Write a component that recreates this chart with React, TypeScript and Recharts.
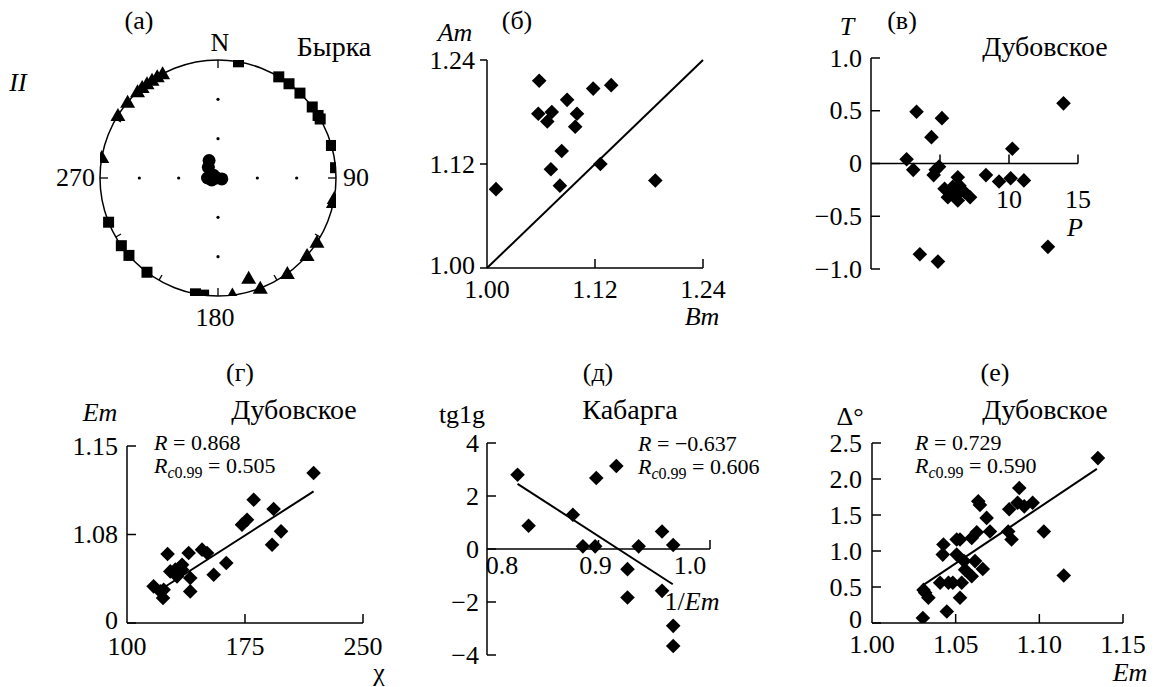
import { ScatterChart, Scatter, XAxis, YAxis, ReferenceLine, ReferenceDot } from 'recharts';

const FONT = "'Liberation Serif', Tinos, 'Times New Roman', serif";
const INK = '#000';
const PAD = 60;
const FS = 26;
const PLACE_FS = 28;

// ---- (а) Бырка: stereonet poles, [azimuth, dip] ----
const squarePoles = [[10, 0], [31, 0], [37, 0], [44, 0], [53, 0], [58, 0], [60, 0], [74, 0], [85, 0], [187, 0], [191, 0], [217, 0], [229, 0], [235, 0], [248, 0]];
const trianglePoles = [[280, 0], [302, 0], [310, 0], [317, 0], [320, 0], [323, 0], [326, 0], [329, 0], [332, 0], [100, 0], [102, 0], [123, 0], [131, 0], [144, 0], [159, 0], [173, 0], [163, 10]];
const circlePoles = [[333, 75], [318, 79], [270, 82], [252, 85], [270, 89], [104, 87], [301, 86]];
const netGridDips = [30, 60];
const netGridAzimuths = [0, 90, 180, 270];
const netTickAzimuths = [0, 30, 60, 90, 120, 150, 180, 210, 240, 270, 300, 330];

// ---- (б) Am vs Bm ----
const bmValues = [1.010, 1.058, 1.057, 1.072, 1.067, 1.089, 1.100, 1.098, 1.118, 1.138, 1.083, 1.071, 1.081, 1.126, 1.187];
const amValues = [1.091, 1.216, 1.178, 1.180, 1.169, 1.194, 1.178, 1.163, 1.207, 1.211, 1.135, 1.114, 1.095, 1.120, 1.101];
const equalityLine = [1.0, 1.24];

// ---- (в) T vs P, Дубовское ----
const pValues = [3.30, 5.14, 4.38, 2.58, 3.06, 4.54, 4.93, 4.69, 5.33, 5.57, 5.93, 6.29, 6.41, 6.29, 6.77, 7.18, 5.89, 8.33, 9.28, 10.12, 11.08, 10.24, 13.95, 12.82, 3.54, 4.85, 6.17, 6.53];
const tValues = [0.49, 0.43, 0.25, 0.04, -0.06, -0.11, -0.03, -0.06, -0.24, -0.32, -0.22, -0.13, -0.21, -0.35, -0.27, -0.32, -0.28, -0.11, -0.17, -0.14, -0.16, 0.14, 0.57, -0.79, -0.86, -0.93, -0.30, -0.25];

// ---- (г) Em vs χ, Дубовское ----
const chiValues = [218.6, 180.5, 193.2, 176.3, 173.1, 197.9, 192.2, 147.7, 150.9, 139.2, 125.8, 163.1, 155.1, 135.0, 130.7, 131.8, 140.2, 116.9, 123.3, 122.9, 140.2, 127.5, 121.2, 135.0];
const emValuesG = [1.1287, 1.1075, 1.1002, 1.0917, 1.0878, 1.0825, 1.0719, 1.068, 1.0654, 1.0654, 1.0646, 1.0575, 1.0482, 1.0561, 1.0522, 1.0469, 1.0456, 1.039, 1.0363, 1.0298, 1.035, 1.0508, 1.035, 1.0522];
const fitLineG = [[121.2, 1.0363], [218.6, 1.1141]];

// ---- (д) tg1g vs 1/Em, Кабарга ----
const invEmValues = [0.8274, 0.8373, 0.877, 0.886, 0.897, 0.898, 0.916, 0.936, 0.926, 0.926, 0.957, 0.967, 0.957, 0.967, 0.967];
const tglgValues = [2.80, 0.88, 1.29, 0.10, 0.10, 2.68, 3.13, 0.10, -0.76, -1.83, 0.66, 0.15, -1.58, -2.90, -3.66];
const fitLineD = [[0.8274, 2.46], [0.9666, -1.33]];

// ---- (е) Δ° vs Em, Дубовское ----
const emValuesE = [1.135, 1.088, 1.087, 1.091, 1.096, 1.082, 1.0635, 1.0645, 1.0685, 1.0705, 1.0814, 1.0834, 1.1027, 1.1146, 1.0626, 1.0596, 1.0506, 1.0526, 1.0427, 1.0423, 1.0506, 1.055, 1.0616, 1.0556, 1.0662, 1.0596, 1.0407, 1.0457, 1.0483, 1.0536, 1.0308, 1.0318, 1.0337, 1.0526, 1.0447, 1.0304];
const deltaValues = [2.29, 1.875, 1.67, 1.62, 1.67, 1.58, 1.69, 1.64, 1.46, 1.27, 1.27, 1.16, 1.27, 0.66, 1.26, 1.18, 1.16, 1.16, 1.09, 0.95, 0.95, 0.86, 0.86, 0.74, 0.75, 0.65, 0.56, 0.56, 0.56, 0.56, 0.46, 0.42, 0.35, 0.35, 0.16, 0.07];
const fitLineE = [[1.0308, 0.53], [1.1344, 2.14]];

const zip = (xs: number[], ys: number[]) => xs.map((x, i) => ({ x, y: ys[i] }));
const minus = (s: string) => s.replace('-', '\u2212');

// polar projection of a pole onto the net
const project = ([az, dip]: number[]) => {
  const r = (90 - dip) / 90;
  const a = (az * Math.PI) / 180;
  return { x: r * Math.sin(a), y: r * Math.cos(a), az };
};

const Diamond = (p: any) => {
  const { cx, cy } = p;
  const s = 7.3;
  return <polygon points={`${cx},${cy - s} ${cx + s},${cy} ${cx},${cy + s} ${cx - s},${cy}`} fill={INK} />;
};
const Square = (p: any) => <rect x={p.cx - 5.5} y={p.cy - 5.5} width={11} height={11} fill={INK} />;
const Triangle = (p: any) => {
  const { cx, cy } = p;
  return <polygon points={`${cx},${cy - 7.5} ${cx + 7.5},${cy + 5.5} ${cx - 7.5},${cy + 5.5}`} fill={INK} />;
};
const Ball = (p: any) => <circle cx={p.cx} cy={p.cy} r={6.5} fill={INK} />;
const GridDot = (p: any) => <circle cx={p.cx} cy={p.cy} r={1.6} fill={INK} />;
const NetTick = (p: any) => {
  const a = (p.payload.az * Math.PI) / 180;
  const len = p.payload.az % 90 === 0 ? 8 : 6;
  return <line x1={p.cx} y1={p.cy} x2={p.cx - len * Math.sin(a)} y2={p.cy + len * Math.cos(a)} stroke={INK} strokeWidth={1.3} />;
};

function Label({ x, y, anchor = 'middle', size = FS, italic = false, children }: any) {
  const tx = anchor === 'middle' ? '-50%' : anchor === 'end' ? '-100%' : '0';
  return (
    <div
      style={{
        position: 'absolute', left: x, top: y, transform: `translate(${tx}, -50%)`,
        fontSize: size, fontStyle: italic ? 'italic' : 'normal', lineHeight: 1,
        whiteSpace: 'nowrap', fontFamily: FONT, color: INK,
      }}
    >
      {children}
    </div>
  );
}

const RText = ({ r, rc }: { r: string; rc: string }) => (
  <>
    <div><i>R</i> = {r}</div>
    <div style={{ marginTop: 1 }}>
      <i>R</i><span style={{ fontSize: 16, position: 'relative', top: 5 }}><i>c</i>0.99</span> = {rc}
    </div>
  </>
);

function XTick(props: any) {
  const { x, y, payload, lift, fmt, labelDy, shift, skipMark } = props;
  const v = payload.value;
  const y0 = y - lift;
  return (
    <g>
      {v !== skipMark && <line x1={x} y1={y0} x2={x} y2={y0 - 9} stroke={INK} strokeWidth={1.5} />}
      <text x={x + (shift?.[String(v)] ?? 0)} y={y0 + labelDy} textAnchor="middle" dominantBaseline="central"
        style={{ fontFamily: FONT }} fontSize={FS} fill={INK}>{fmt(v)}</text>
    </g>
  );
}

function YTick(props: any) {
  const { x, y, payload, fmt, inside, gap, bottomValue, bottomDy } = props;
  const dy = payload.value === bottomValue ? bottomDy : 0;
  return (
    <g>
      <line x1={x} y1={y} x2={inside ? x + 9 : x - 7} y2={y} stroke={INK} strokeWidth={1.5} />
      <text x={x - gap} y={y + dy} textAnchor="end" dominantBaseline="central"
        style={{ fontFamily: FONT }} fontSize={FS} fill={INK}>{fmt(payload.value)}</text>
    </g>
  );
}

function Panel(props: any) {
  const { box, xDomain, yDomain, xTicks, yTicks, xFmt, yFmt, yInside, yGap, xZero, xLabelDy, xShift, bottomDy = 0, children } = props;
  const [l, t, r, b] = box;
  const w = r - l;
  const h = b - t;
  const lift = xZero ? (h * (0 - yDomain[0])) / (yDomain[1] - yDomain[0]) : 0;
  const axisStyle = { stroke: INK, strokeWidth: 1.5 };
  return (
    <div style={{ position: 'absolute', left: l - PAD, top: t - PAD }}>
      <ScatterChart width={w + 2 * PAD} height={h + 2 * PAD} margin={{ top: PAD, right: PAD, left: 0, bottom: 0 }}>
        <XAxis
          type="number" dataKey="x" domain={xDomain} ticks={xTicks} interval={0} allowDataOverflow
          height={PAD} axisLine={xZero ? false : axisStyle} tickLine={false} tickSize={0} tickMargin={0}
          tick={(p: any) => <XTick {...p} lift={lift} fmt={xFmt} labelDy={xLabelDy} shift={xShift} skipMark={xDomain[0]} />}
        />
        <YAxis
          type="number" dataKey="y" domain={yDomain} ticks={yTicks} interval={0} allowDataOverflow
          width={PAD} axisLine={axisStyle} tickLine={false} tickSize={0} tickMargin={0}
          tick={(p: any) => <YTick {...p} fmt={yFmt} inside={yInside} gap={yGap} bottomValue={yDomain[0]} bottomDy={bottomDy} />}
        />
        {xZero && <ReferenceLine y={0} stroke={INK} strokeWidth={1.5} />}
        {children}
      </ScatterChart>
    </div>
  );
}

function Stereonet() {
  const R = 118;
  const cx = 218;
  const cy = 178;
  const ticks = netTickAzimuths.map((az) => project([az, 0]));
  const grid = netGridDips.flatMap((d) => netGridAzimuths.map((az) => project([az, d])));
  return (
    <div style={{ position: 'absolute', left: cx - R - PAD, top: cy - R - PAD }}>
      <ScatterChart width={2 * R + 2 * PAD} height={2 * R + 2 * PAD} margin={{ top: PAD, right: PAD, bottom: PAD, left: PAD }}>
        <XAxis type="number" dataKey="x" domain={[-1, 1]} hide allowDataOverflow />
        <YAxis type="number" dataKey="y" domain={[-1, 1]} hide allowDataOverflow />
        <ReferenceDot x={0} y={0} r={R} fill="none" stroke={INK} strokeWidth={1.5} ifOverflow="visible" />
        <Scatter data={ticks} shape={NetTick} isAnimationActive={false} />
        <Scatter data={grid} shape={GridDot} isAnimationActive={false} />
        <Scatter data={squarePoles.map(project)} shape={Square} isAnimationActive={false} />
        <Scatter data={trianglePoles.map(project)} shape={Triangle} isAnimationActive={false} />
        <Scatter data={circlePoles.map(project)} shape={Ball} isAnimationActive={false} />
      </ScatterChart>
    </div>
  );
}

export default function App() {
  const line = { stroke: INK, strokeWidth: 2, ifOverflow: 'visible' as const };
  return (
    <div style={{ position: 'absolute', left: 0, top: 0, width: 1158, height: 687, background: '#fff', overflow: 'hidden', fontFamily: FONT }}>
      {/* (а) */}
      <Stereonet />
      <Label x={139} y={21}>(а)</Label>
      <Label x={220} y={43}>N</Label>
      <Label x={334} y={47} size={PLACE_FS}>Бырка</Label>
      <Label x={18} y={83} italic>II</Label>
      <Label x={95} y={178} anchor="end">270</Label>
      <Label x={343} y={178} anchor="start">90</Label>
      <Label x={215} y={318}>180</Label>

      {/* (б) */}
      <Panel
        box={[487, 60, 703, 268]} xDomain={[1, 1.24]} yDomain={[1, 1.24]}
        xTicks={[1, 1.12, 1.24]} yTicks={[1, 1.12, 1.24]}
        xFmt={(v: number) => v.toFixed(2)} yFmt={(v: number) => v.toFixed(2)}
        yInside={false} yGap={12} xLabelDy={21} bottomDy={-3}
      >
        <ReferenceLine segment={[{ x: equalityLine[0], y: equalityLine[0] }, { x: equalityLine[1], y: equalityLine[1] }]} {...line} />
        <Scatter data={zip(bmValues, amValues)} shape={Diamond} isAnimationActive={false} />
      </Panel>
      <Label x={517} y={21}>(б)</Label>
      <Label x={455} y={33} italic>Am</Label>
      <Label x={702} y={317} italic>Bm</Label>

      {/* (в) */}
      <Panel
        box={[871, 58, 1078, 269]} xDomain={[0, 15]} yDomain={[-1, 1]}
        xTicks={[5, 10, 15]} yTicks={[-1, -0.5, 0, 0.5, 1]}
        xFmt={(v: number) => (v === 5 ? '' : String(v))}
        yFmt={(v: number) => (v === 0 ? '0' : minus(v.toFixed(1)))}
        yInside yGap={9} xZero xLabelDy={36}
      >
        <Scatter data={zip(pValues, tValues)} shape={Diamond} isAnimationActive={false} />
      </Panel>
      <Label x={902} y={21}>(в)</Label>
      <Label x={847} y={27} italic>T</Label>
      <Label x={1045} y={47} size={PLACE_FS}>Дубовское</Label>
      <Label x={1075} y={228} italic>P</Label>

      {/* (г) */}
      <Panel
        box={[127, 446, 363, 623]} xDomain={[100, 250]} yDomain={[1.01, 1.15]}
        xTicks={[100, 175, 250]} yTicks={[1.01, 1.08, 1.15]}
        xFmt={(v: number) => String(v)} yFmt={(v: number) => (v === 1.01 ? '0' : v.toFixed(2))}
        yInside yGap={9} xLabelDy={23} bottomDy={-3}
      >
        <ReferenceLine segment={fitLineG.map(([x, y]) => ({ x, y }))} {...line} />
        <Scatter data={zip(chiValues, emValuesG)} shape={Diamond} isAnimationActive={false} />
      </Panel>
      <Label x={240} y={373}>(г)</Label>
      <Label x={100} y={413} italic>Em</Label>
      <Label x={294} y={410} size={PLACE_FS}>Дубовское</Label>
      <Label x={154} y={454} anchor="start" size={22}><RText r="0.868" rc="0.505" /></Label>
      <Label x={379} y={673}>χ</Label>

      {/* (д) */}
      <Panel
        box={[487, 443, 710, 655]} xDomain={[0.8, 1.0]} yDomain={[-4, 4]}
        xTicks={[0.8, 0.9, 1.0]} yTicks={[-4, -2, 0, 2, 4]}
        xFmt={(v: number) => v.toFixed(1)} yFmt={(v: number) => minus(String(v))}
        xShift={{ '0.8': 15, '0.9': -3, '1': -20 }}
        yInside yGap={8} xZero xLabelDy={16}
      >
        <ReferenceLine segment={fitLineD.map(([x, y]) => ({ x, y }))} {...line} />
        <Scatter data={zip(invEmValues, tglgValues)} shape={Diamond} isAnimationActive={false} />
      </Panel>
      <Label x={598} y={373}>(д)</Label>
      <Label x={462} y={415}>tg1g</Label>
      <Label x={630} y={410} size={PLACE_FS}>Кабарга</Label>
      <Label x={638} y={455} anchor="start" size={22}><RText r={'\u22120.637'} rc="0.606" /></Label>
      <Label x={692} y={602}>1/<i>Em</i></Label>

      {/* (е) */}
      <Panel
        box={[872, 443, 1123, 623]} xDomain={[1, 1.15]} yDomain={[0, 2.5]}
        xTicks={[1, 1.05, 1.1, 1.15]} yTicks={[0, 0.5, 1, 1.5, 2, 2.5]}
        xFmt={(v: number) => v.toFixed(2)} yFmt={(v: number) => (v === 0 ? '0' : v.toFixed(1))}
        yInside yGap={10} xLabelDy={21} bottomDy={-4}
      >
        <ReferenceLine segment={fitLineE.map(([x, y]) => ({ x, y }))} {...line} />
        <Scatter data={zip(emValuesE, deltaValues)} shape={Diamond} isAnimationActive={false} />
      </Panel>
      <Label x={995} y={373}>(е)</Label>
      <Label x={850} y={417}>Δ°</Label>
      <Label x={1045} y={410} size={PLACE_FS}>Дубовское</Label>
      <Label x={915} y={454} anchor="start" size={22}><RText r="0.729" rc="0.590" /></Label>
      <Label x={1130} y={673} italic>Em</Label>
    </div>
  );
}
